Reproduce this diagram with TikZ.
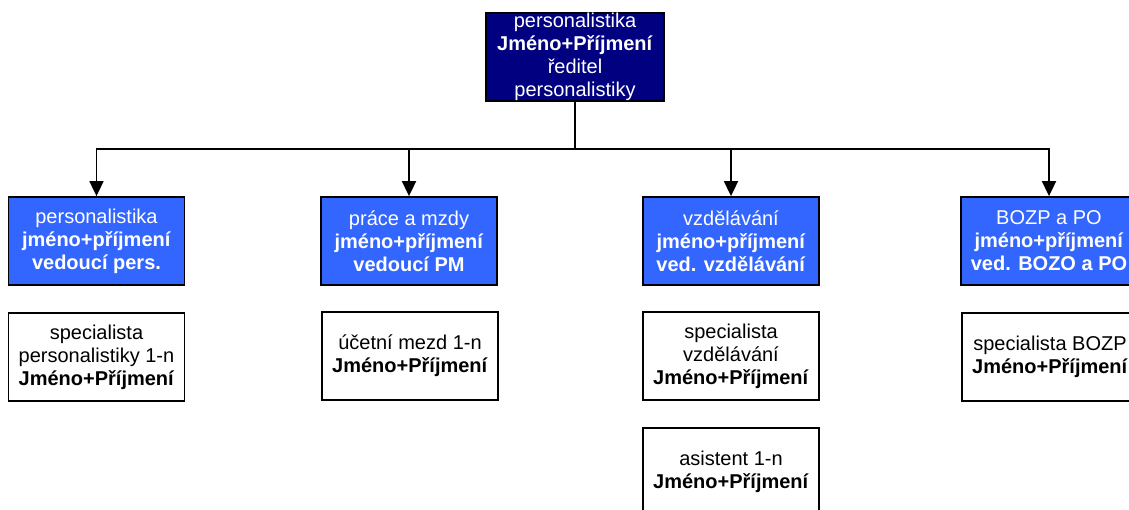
\documentclass[tikz,border=0pt]{standalone}
\usepackage{fontspec}
\setmainfont{Liberation Sans}
\usetikzlibrary{arrows.meta}
\definecolor{navy}{RGB}{0,0,128}
\definecolor{deptblue}{RGB}{51,102,255}
\tikzset{
  x=1pt, y=-1pt,
  box/.style={draw=black, line width=1.8pt, rectangle, inner sep=0pt,
    minimum width=176pt, minimum height=88pt, align=center,
    font=\fontsize{20}{23}\selectfont},
  headbox/.style={box, fill=navy, text=white, minimum width=178pt},
  deptbox/.style={box, fill=deptblue, text=white},
  staffbox/.style={box, fill=white, text=black},
  wire/.style={draw=black, line width=1.8pt},
  arr/.style={-{Triangle[width=14pt,length=15pt]}}
}
\begin{document}
\begin{tikzpicture}
\useasboundingbox (0,0) rectangle (1129,510);
\clip (0,0) rectangle (1129,510);

% head of the department
\node[headbox] (top) at (575,57) {personalistika\\\textbf{Jméno+Příjmení}\\ředitel\\personalistiky};

% sections
\node[deptbox] (b1) at (96.5,241) {personalistika\\\textbf{jméno+příjmení}\\\textbf{vedoucí pers.}};
\node[deptbox] (b2) at (409,241) {práce a mzdy\\\textbf{jméno+příjmení}\\\textbf{vedoucí PM}};
\node[deptbox] (b3) at (731,241) {vzdělávání\\\textbf{jméno+příjmení}\\\textbf{ved. vzdělávání}};
\node[deptbox] (b4) at (1049,241) {BOZP a PO\\\textbf{jméno+příjmení}\\\textbf{ved. BOZO a PO}};

% staff
\node[staffbox] (s1) at (96.5,357) {specialista\\personalistiky 1-n\\\textbf{Jméno+Příjmení}};
\node[staffbox] (s2) at (410,356) {účetní mezd 1-n\\\textbf{Jméno+Příjmení}};
\node[staffbox] (s3) at (731,356) {specialista\\vzdělávání\\\textbf{Jméno+Příjmení}};
\node[staffbox] (s3b) at (731,472) {asistent 1-n\\\textbf{Jméno+Příjmení}};
\node[staffbox] (s4) at (1050,357) {specialista BOZP\\\textbf{Jméno+Příjmení}};

% connectors
\coordinate (bus) at (575,149);
\draw[wire] (top.south) -- (bus);
\foreach \n in {b1,b2,b3,b4}
  \draw[wire,arr] (bus) -| (\n.north);
\end{tikzpicture}
\end{document}
